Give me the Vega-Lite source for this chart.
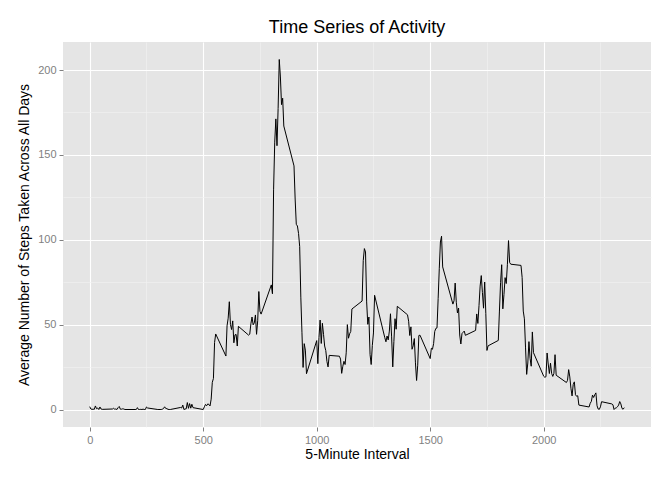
{
"$schema":"https://vega.github.io/schema/vega-lite/v6.json",
"width":588,"height":385,"autosize":{"type":"none"},
"padding":{"left":63,"top":42,"right":21,"bottom":53},
"title":{"text":"Time Series of Activity","fontSize":18,"font":"Liberation Sans","fontWeight":"normal","color":"black","offset":5},
"config":{"view":{"fill":"#E5E5E5","stroke":null},"font":"Liberation Sans"},
"data":{"values":[
{"i":0,"s":1.7},{"i":5,"s":0.3},{"i":10,"s":0.1},{"i":15,"s":0.2},{"i":20,"s":0.1},{"i":25,"s":2.1},{"i":30,"s":0.5},{"i":35,"s":0.9},{"i":40,"s":0},{"i":45,"s":1.5},{"i":50,"s":0.3},{"i":55,"s":0.1},
{"i":100,"s":0.3},{"i":105,"s":0.7},{"i":110,"s":0.2},{"i":115,"s":0.3},{"i":120,"s":0},{"i":125,"s":1.1},{"i":130,"s":1.8},{"i":135,"s":0.2},{"i":140,"s":0.2},{"i":145,"s":0.4},{"i":150,"s":0.3},{"i":155,"s":0},
{"i":200,"s":0},{"i":205,"s":0},{"i":210,"s":1.1},{"i":215,"s":0},{"i":220,"s":0},{"i":225,"s":0.1},{"i":230,"s":0},{"i":235,"s":0.2},{"i":240,"s":0},{"i":245,"s":0},{"i":250,"s":1.5},{"i":255,"s":0.9},
{"i":300,"s":0},{"i":305,"s":0},{"i":310,"s":0},{"i":315,"s":0},{"i":320,"s":0.2},{"i":325,"s":0.6},{"i":330,"s":1.6},{"i":335,"s":0.6},{"i":340,"s":0.5},{"i":345,"s":0.1},{"i":350,"s":0},{"i":355,"s":0},
{"i":400,"s":1.2},{"i":405,"s":0.9},{"i":410,"s":2.6},{"i":415,"s":0},{"i":420,"s":0.3},{"i":425,"s":0.4},{"i":430,"s":4.1},{"i":435,"s":0.7},{"i":440,"s":3.5},{"i":445,"s":0.8},{"i":450,"s":3.1},{"i":455,"s":1.1},
{"i":500,"s":0},{"i":505,"s":1.6},{"i":510,"s":3.0},{"i":515,"s":2.2},{"i":520,"s":3.3},{"i":525,"s":3.0},{"i":530,"s":2.1},{"i":535,"s":6.1},{"i":540,"s":16.0},{"i":545,"s":18.3},{"i":550,"s":39.5},{"i":555,"s":44.5},
{"i":600,"s":31.5},{"i":605,"s":49.3},{"i":610,"s":53.8},{"i":615,"s":63.5},{"i":620,"s":50.0},{"i":625,"s":47.1},{"i":630,"s":52.2},{"i":635,"s":39.3},{"i":640,"s":44.0},{"i":645,"s":44.2},{"i":650,"s":37.4},{"i":655,"s":49.0},
{"i":700,"s":43.8},{"i":705,"s":44.4},{"i":710,"s":50.5},{"i":715,"s":54.5},{"i":720,"s":49.9},{"i":725,"s":51.0},{"i":730,"s":55.7},{"i":735,"s":44.3},{"i":740,"s":52.3},{"i":745,"s":69.5},{"i":750,"s":57.8},{"i":755,"s":56.2},
{"i":800,"s":73.4},{"i":805,"s":68.2},{"i":810,"s":129.4},{"i":815,"s":157.5},{"i":820,"s":171.2},{"i":825,"s":155.4},{"i":830,"s":177.3},{"i":835,"s":206.2},{"i":840,"s":195.9},{"i":845,"s":179.6},{"i":850,"s":183.4},{"i":855,"s":167.0},
{"i":900,"s":143.5},{"i":905,"s":124.0},{"i":910,"s":109.1},{"i":915,"s":108.1},{"i":920,"s":103.7},{"i":925,"s":96.0},{"i":930,"s":66.2},{"i":935,"s":45.2},{"i":940,"s":24.8},{"i":945,"s":38.8},{"i":950,"s":35.0},{"i":955,"s":21.1},
{"i":1000,"s":40.6},{"i":1005,"s":27.0},{"i":1010,"s":42.4},{"i":1015,"s":52.7},{"i":1020,"s":38.9},{"i":1025,"s":50.8},{"i":1030,"s":44.3},{"i":1035,"s":37.4},{"i":1040,"s":34.7},{"i":1045,"s":28.3},{"i":1050,"s":25.1},{"i":1055,"s":31.9},
{"i":1100,"s":31.4},{"i":1105,"s":29.7},{"i":1110,"s":21.3},{"i":1115,"s":25.5},{"i":1120,"s":28.4},{"i":1125,"s":26.5},{"i":1130,"s":33.4},{"i":1135,"s":50.0},{"i":1140,"s":42.0},{"i":1145,"s":44.6},{"i":1150,"s":46.0},{"i":1155,"s":59.2},
{"i":1200,"s":63.9},{"i":1205,"s":87.7},{"i":1210,"s":94.8},{"i":1215,"s":92.8},{"i":1220,"s":63.4},{"i":1225,"s":50.2},{"i":1230,"s":54.5},{"i":1235,"s":32.4},{"i":1240,"s":26.5},{"i":1245,"s":37.7},{"i":1250,"s":45.1},{"i":1255,"s":67.3},
{"i":1300,"s":42.3},{"i":1305,"s":39.9},{"i":1310,"s":43.3},{"i":1315,"s":41.0},{"i":1320,"s":46.2},{"i":1325,"s":56.4},{"i":1330,"s":42.8},{"i":1335,"s":25.1},{"i":1340,"s":40.0},{"i":1345,"s":53.5},{"i":1350,"s":47.3},{"i":1355,"s":60.8},
{"i":1400,"s":55.8},{"i":1405,"s":52.0},{"i":1410,"s":43.6},{"i":1415,"s":48.7},{"i":1420,"s":35.5},{"i":1425,"s":37.5},{"i":1430,"s":41.8},{"i":1435,"s":27.5},{"i":1440,"s":17.1},{"i":1445,"s":26.1},{"i":1450,"s":43.6},{"i":1455,"s":43.8},
{"i":1500,"s":30.0},{"i":1505,"s":36.1},{"i":1510,"s":35.5},{"i":1515,"s":38.8},{"i":1520,"s":46.0},{"i":1525,"s":47.8},{"i":1530,"s":48.1},{"i":1535,"s":65.3},{"i":1540,"s":82.9},{"i":1545,"s":98.7},{"i":1550,"s":102.1},{"i":1555,"s":84.0},
{"i":1600,"s":62.1},{"i":1605,"s":64.1},{"i":1610,"s":74.5},{"i":1615,"s":63.2},{"i":1620,"s":56.9},{"i":1625,"s":59.8},{"i":1630,"s":43.9},{"i":1635,"s":38.6},{"i":1640,"s":44.7},{"i":1645,"s":45.5},{"i":1650,"s":46.2},{"i":1655,"s":43.7},
{"i":1700,"s":46.6},{"i":1705,"s":56.3},{"i":1710,"s":50.7},{"i":1715,"s":61.2},{"i":1720,"s":72.7},{"i":1725,"s":78.9},{"i":1730,"s":68.9},{"i":1735,"s":59.7},{"i":1740,"s":75.1},{"i":1745,"s":56.5},{"i":1750,"s":34.8},{"i":1755,"s":37.5},
{"i":1800,"s":40.7},{"i":1805,"s":58.0},{"i":1810,"s":74.7},{"i":1815,"s":85.3},{"i":1820,"s":59.3},{"i":1825,"s":67.8},{"i":1830,"s":77.7},{"i":1835,"s":74.2},{"i":1840,"s":85.3},{"i":1845,"s":99.5},{"i":1850,"s":86.6},{"i":1855,"s":85.6},
{"i":1900,"s":84.9},{"i":1905,"s":77.8},{"i":1910,"s":58.0},{"i":1915,"s":53.4},{"i":1920,"s":36.3},{"i":1925,"s":20.7},{"i":1930,"s":27.4},{"i":1935,"s":40.0},{"i":1940,"s":30.2},{"i":1945,"s":25.5},{"i":1950,"s":45.7},{"i":1955,"s":33.5},
{"i":2000,"s":19.6},{"i":2005,"s":19.0},{"i":2010,"s":19.3},{"i":2015,"s":33.3},{"i":2020,"s":26.8},{"i":2025,"s":21.2},{"i":2030,"s":27.3},{"i":2035,"s":21.3},{"i":2040,"s":19.5},{"i":2045,"s":21.3},{"i":2050,"s":32.3},{"i":2055,"s":20.2},
{"i":2100,"s":15.9},{"i":2105,"s":17.2},{"i":2110,"s":23.5},{"i":2115,"s":19.2},{"i":2120,"s":12.5},{"i":2125,"s":8.0},{"i":2130,"s":14.7},{"i":2135,"s":16.3},{"i":2140,"s":8.7},{"i":2145,"s":7.8},{"i":2150,"s":8.1},{"i":2155,"s":2.6},
{"i":2200,"s":1.5},{"i":2205,"s":3.7},{"i":2210,"s":4.8},{"i":2215,"s":8.5},{"i":2220,"s":7.1},{"i":2225,"s":8.7},{"i":2230,"s":9.8},{"i":2235,"s":2.2},{"i":2240,"s":0.3},{"i":2245,"s":0.1},{"i":2250,"s":1.6},{"i":2255,"s":4.6},
{"i":2300,"s":3.3},{"i":2305,"s":2.8},{"i":2310,"s":0},{"i":2315,"s":0.8},{"i":2320,"s":1.0},{"i":2325,"s":1.6},{"i":2330,"s":2.6},{"i":2335,"s":4.7},{"i":2340,"s":3.3},{"i":2345,"s":0.6},{"i":2350,"s":0.2},{"i":2355,"s":1.1}
]},
"resolve":{"axis":{"x":"independent","y":"independent"}},
"layer":[
{"mark":{"type":"line","strokeWidth":0,"opacity":0},
 "encoding":{
  "x":{"field":"i","type":"quantitative","scale":{"domain":[-117.75,2472.75],"nice":false,"zero":false},
   "axis":{"orient":"top","values":[250,750,1250,1750,2250],"grid":true,"gridColor":"#F2F2F2","gridWidth":0.6,"labels":false,"ticks":false,"domain":false,"title":null}},
  "y":{"field":"s","type":"quantitative","scale":{"domain":[-10.3,216.5],"nice":false,"zero":false},
   "axis":{"orient":"right","values":[25,75,125,175],"grid":true,"gridColor":"#F2F2F2","gridWidth":0.6,"labels":false,"ticks":false,"domain":false,"title":null}}}},
{"mark":{"type":"line","color":"black","strokeWidth":1},
 "encoding":{
  "x":{"field":"i","type":"quantitative","scale":{"domain":[-117.75,2472.75],"nice":false,"zero":false},
   "axis":{"values":[0,500,1000,1500,2000],"format":"d","grid":true,"gridColor":"white","gridWidth":1.1,"domain":false,"tickColor":"#7F7F7F","tickSize":4,"labelColor":"#7F7F7F","labelFontSize":11,"labelPadding":3,"title":"5-Minute Interval","titleFontSize":14,"titleFontWeight":"normal","titleColor":"black","titlePadding":2}},
  "y":{"field":"s","type":"quantitative","scale":{"domain":[-10.3,216.5],"nice":false,"zero":false},
   "axis":{"values":[0,50,100,150,200],"format":"d","grid":true,"gridColor":"white","gridWidth":1.1,"domain":false,"tickColor":"#7F7F7F","tickSize":4,"labelColor":"#7F7F7F","labelFontSize":11,"labelPadding":3,"title":"Average Number of Steps Taken Across All Days","titleFontSize":14,"titleFontWeight":"normal","titleColor":"black","titlePadding":6}}}}
]
}
